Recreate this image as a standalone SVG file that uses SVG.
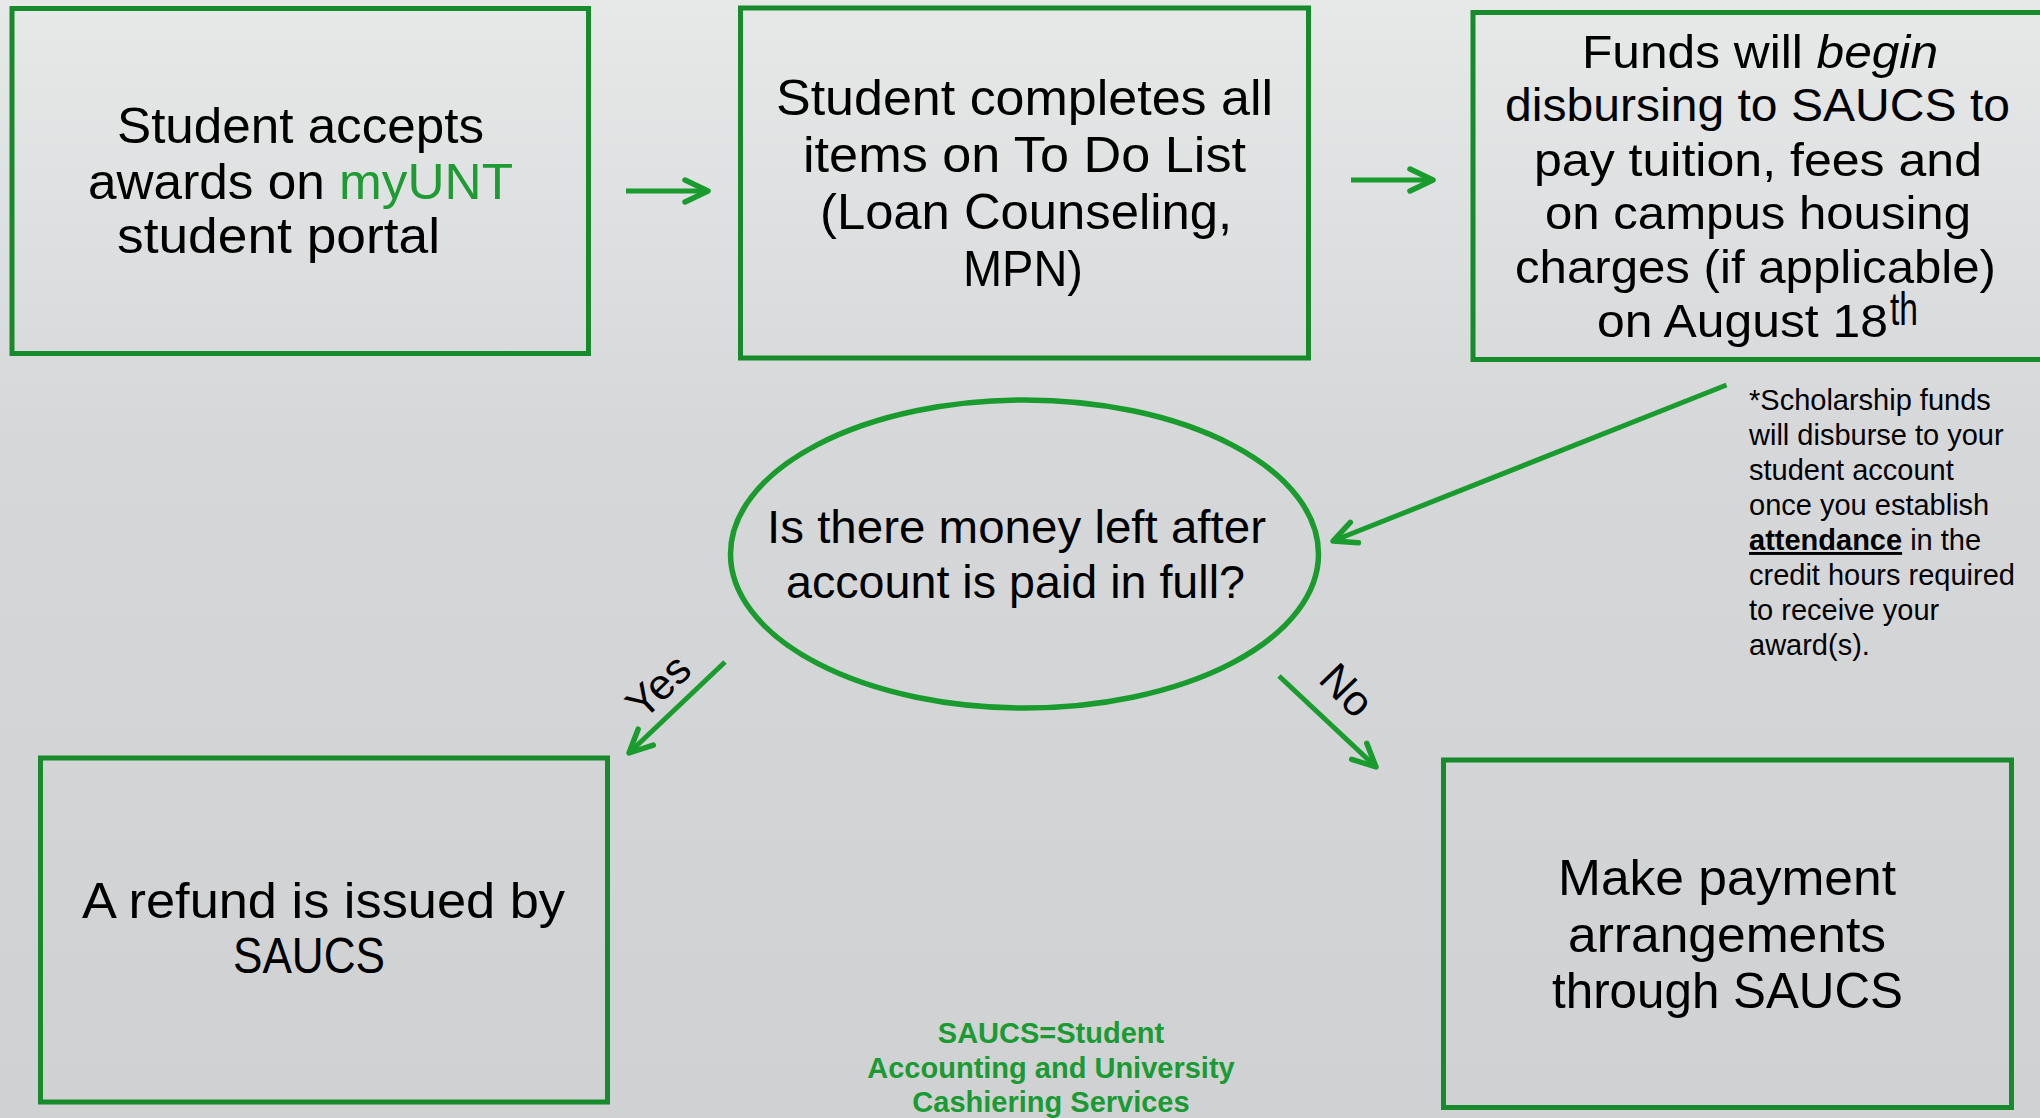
<svg xmlns="http://www.w3.org/2000/svg" width="2040" height="1118" viewBox="0 0 2040 1118">
<defs>
<linearGradient id="bg" x1="0" y1="0" x2="0" y2="1">
<stop offset="0" stop-color="#e7e8e8"/>
<stop offset="0.4" stop-color="#d6d7d9"/>
<stop offset="1" stop-color="#d0d1d3"/>
</linearGradient>
<marker id="chev" markerUnits="userSpaceOnUse" markerWidth="40" markerHeight="40" viewBox="-30 -20 40 40" refX="0" refY="0" orient="auto">
<path d="M-23,-11 L0,0 L-23,11" fill="none" stroke="#199b2e" stroke-width="5.5" stroke-linecap="round" stroke-linejoin="round"/>
</marker>
<style>
.box{fill:none;stroke:#178a2b;stroke-width:5}
.oval{fill:none;stroke:#1a9b2e;stroke-width:5.5}
.t{font-family:"Liberation Sans",Arial,sans-serif;font-size:50px;fill:#000}
.t3{font-family:"Liberation Sans",Arial,sans-serif;font-size:47px;fill:#000}
.te{font-family:"Liberation Sans",Arial,sans-serif;font-size:46px;fill:#000}
.g{fill:#1e9b33}
.note{font-family:"Liberation Sans",Arial,sans-serif;font-size:29px;fill:#000}
.foot{font-family:"Liberation Sans",Arial,sans-serif;font-size:29px;font-weight:bold;fill:#1a9a33;text-anchor:middle}
.lbl{font-family:"Liberation Sans",Arial,sans-serif;font-size:43px;fill:#000;text-anchor:middle}
.conn{fill:none;stroke:#199b2e;stroke-width:5;marker-end:url(#chev)}
</style>
</defs>
<rect x="0" y="0" width="2040" height="1118" fill="url(#bg)"/>

<g id="node-accept">
<rect class="box" x="12" y="8.5" width="576.5" height="345"/>
<text class="t" x="117" y="143" textLength="367" lengthAdjust="spacingAndGlyphs">Student accepts</text>
<text class="t" x="88" y="199" textLength="425" lengthAdjust="spacingAndGlyphs">awards on <tspan class="g">myUNT</tspan></text>
<text class="t" x="117" y="253" textLength="323" lengthAdjust="spacingAndGlyphs">student portal</text>
</g>

<g id="node-todo">
<rect class="box" x="740.5" y="8" width="568" height="350"/>
<text class="t" x="776" y="115" textLength="497" lengthAdjust="spacingAndGlyphs">Student completes all</text>
<text class="t" x="803" y="172" textLength="443" lengthAdjust="spacingAndGlyphs">items on To Do List</text>
<text class="t" x="820" y="229" textLength="412" lengthAdjust="spacingAndGlyphs">(Loan Counseling,</text>
<text class="t" x="963" y="286" textLength="120" lengthAdjust="spacingAndGlyphs">MPN)</text>
</g>

<g id="node-funds">
<rect class="box" x="1473" y="12.5" width="580" height="347"/>
<text class="t3" x="1582" y="68" textLength="356" lengthAdjust="spacingAndGlyphs">Funds will <tspan font-style="italic">begin</tspan></text>
<text class="t3" x="1505" y="121" textLength="505" lengthAdjust="spacingAndGlyphs">disbursing to SAUCS to</text>
<text class="t3" x="1534" y="176" textLength="448" lengthAdjust="spacingAndGlyphs">pay tuition, fees and</text>
<text class="t3" x="1545" y="229" textLength="426" lengthAdjust="spacingAndGlyphs">on campus housing</text>
<text class="t3" x="1515" y="283" textLength="481" lengthAdjust="spacingAndGlyphs">charges (if applicable)</text>
<text class="t3" x="1597" y="337" textLength="291" lengthAdjust="spacingAndGlyphs">on August 18</text>
<text class="t3" x="1890" y="325" font-size="25" textLength="28" lengthAdjust="spacingAndGlyphs">th</text>
</g>

<g id="node-question">
<ellipse class="oval" cx="1024.5" cy="554" rx="294" ry="154"/>
<text class="te" x="767" y="543" textLength="499" lengthAdjust="spacingAndGlyphs">Is there money left after</text>
<text class="te" x="786" y="598" textLength="459" lengthAdjust="spacingAndGlyphs">account is paid in full?</text>
</g>

<g id="node-refund">
<rect class="box" x="40.5" y="758" width="567" height="344"/>
<text class="t" x="82" y="918" textLength="483" lengthAdjust="spacingAndGlyphs">A refund is issued by</text>
<text class="t" x="233" y="973" textLength="152" lengthAdjust="spacingAndGlyphs">SAUCS</text>
</g>

<g id="node-payment">
<rect class="box" x="1443.5" y="760" width="568" height="347.5"/>
<text class="t" x="1558" y="895" textLength="338" lengthAdjust="spacingAndGlyphs">Make payment</text>
<text class="t" x="1568" y="952" textLength="318" lengthAdjust="spacingAndGlyphs">arrangements</text>
<text class="t" x="1552" y="1008" textLength="351" lengthAdjust="spacingAndGlyphs">through SAUCS</text>
</g>

<g id="note-scholarship">
<text class="note" x="1749" y="410">*Scholarship funds</text>
<text class="note" x="1749" y="445">will disburse to your</text>
<text class="note" x="1749" y="480">student account</text>
<text class="note" x="1749" y="515">once you establish</text>
<text class="note" x="1749" y="550"><tspan font-weight="bold" text-decoration="underline">attendance</tspan> in the</text>
<text class="note" x="1749" y="585">credit hours required</text>
<text class="note" x="1749" y="620">to receive your</text>
<text class="note" x="1749" y="655">award(s).</text>
</g>

<g id="note-saucs">
<text class="foot" x="1051" y="1043">SAUCS=Student</text>
<text class="foot" x="1051" y="1078">Accounting and University</text>
<text class="foot" x="1051" y="1112">Cashiering Services</text>
</g>

<g id="connectors">
<line class="conn" x1="626" y1="191" x2="708" y2="191"/>
<line class="conn" x1="1351" y1="180" x2="1433" y2="180"/>
<line class="conn" x1="1726.5" y1="385" x2="1333" y2="541"/>
<line class="conn" x1="725" y1="662" x2="629" y2="753"/>
<line class="conn" x1="1279" y1="676" x2="1376" y2="767"/>
<text class="lbl" transform="translate(658,686) rotate(-44)" y="15">Yes</text>
<text class="lbl" transform="translate(1347,690) rotate(46)" y="15">No</text>
</g>
</svg>
